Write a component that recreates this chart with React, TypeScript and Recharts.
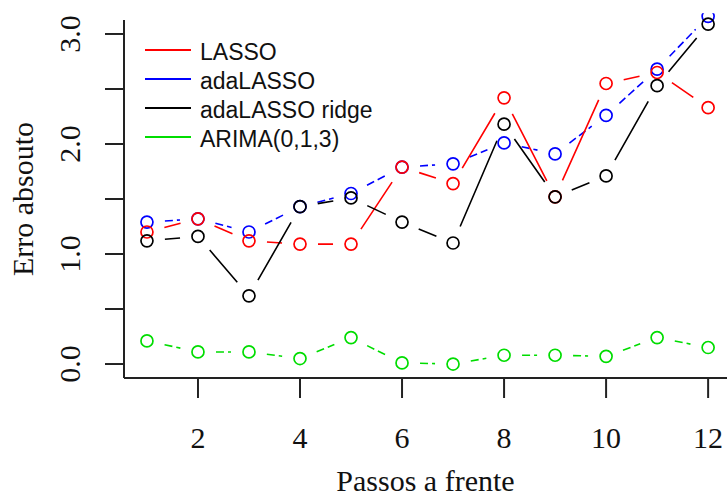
import React from "react"
import { LineChart, Line, XAxis, YAxis } from "recharts"

const steps = [1, 2, 3, 4, 5, 6, 7, 8, 9, 10, 11, 12]
const lasso = [1.2, 1.32, 1.12, 1.09, 1.09, 1.79, 1.64, 2.42, 1.52, 2.55, 2.65, 2.33]
const adaLasso = [1.29, 1.32, 1.2, 1.43, 1.55, 1.79, 1.82, 2.01, 1.91, 2.26, 2.68, 3.16]
const adaRidge = [1.12, 1.16, 0.62, 1.43, 1.51, 1.29, 1.1, 2.18, 1.52, 1.71, 2.53, 3.09]
const arima = [0.21, 0.11, 0.11, 0.05, 0.24, 0.01, 0.0, 0.08, 0.08, 0.07, 0.24, 0.15]

const xTicks = [2, 4, 6, 8, 10, 12]
const yTicks = [0, 0.5, 1, 1.5, 2, 2.5, 3]

const series = [
  { key: "adaLASSO", values: adaLasso, color: "#0000ff", dash: "8 4" },
  { key: "LASSO", values: lasso, color: "#ff0000", dash: undefined },
  { key: "adaLASSO ridge", values: adaRidge, color: "#000000", dash: undefined },
  { key: "ARIMA(0,1,3)", values: arima, color: "#00dd00", dash: "8 4" },
]
const legendOrder = ["LASSO", "adaLASSO", "adaLASSO ridge", "ARIMA(0,1,3)"]

const data = steps.map((s, i) => {
  const row: Record<string, number> = { step: s }
  series.forEach((se) => (row[se.key] = se.values[i]))
  return row
})

// R type="b": segments stop short of each point
const GAP = 18
const gapCurve = (context: any) => {
  let pts: [number, number][] = []
  return {
    areaStart() {},
    areaEnd() {},
    lineStart() {
      pts = []
    },
    lineEnd() {
      for (let i = 0; i < pts.length - 1; i++) {
        const [x0, y0] = pts[i]
        const [x1, y1] = pts[i + 1]
        const dx = x1 - x0
        const dy = y1 - y0
        const d = Math.hypot(dx, dy)
        if (d <= 2 * GAP) continue
        const ux = dx / d
        const uy = dy / d
        context.moveTo(x0 + ux * GAP, y0 + uy * GAP)
        context.lineTo(x1 - ux * GAP, y1 - uy * GAP)
      }
    },
    point(x: number, y: number) {
      pts.push([+x, +y])
    },
  }
}

const serif = "'Liberation Serif', 'Times New Roman', serif"
const sans = "'Liberation Sans', Arial, sans-serif"

const YTick = (props: any) => {
  const { x, y, payload } = props
  if (payload.value % 1 !== 0) return null
  return (
    <text
      transform={`translate(${x - 25}, ${y}) rotate(-90)`}
      textAnchor="middle"
      fontFamily={serif}
      fontSize={30}
      fill="#111"
    >
      {payload.value.toFixed(1)}
    </text>
  )
}

const XTick = (props: any) => {
  const { x, y, payload } = props
  return (
    <text x={x} y={y + 50} textAnchor="middle" fontFamily={serif} fontSize={30} fill="#111">
      {payload.value}
    </text>
  )
}

export default function App() {
  return (
    <div style={{ position: "absolute", left: 0, top: 0, width: 727, height: 494, background: "#fff" }}>
      <LineChart width={727} height={494} data={data} margin={{ top: 20, right: 0, bottom: 0, left: 0 }}>
        <XAxis
          dataKey="step"
          type="number"
          domain={[0.55, 12.37]}
          ticks={xTicks}
          allowDataOverflow
          height={116}
          tickSize={20}
          tickMargin={0}
          tick={<XTick />}
          axisLine={{ stroke: "#222", strokeWidth: 2 }}
          tickLine={{ stroke: "#222", strokeWidth: 2 }}
          label={{
            content: (p: any) => (
              <text
                x={p.viewBox.x + p.viewBox.width / 2}
                y={p.viewBox.y + 113}
                textAnchor="middle"
                fontFamily={serif}
                fontSize={30}
                fill="#111"
              >
                Passos a frente
              </text>
            ),
          }}
        />
        <XAxis
          xAxisId="top"
          orientation="top"
          type="number"
          domain={[0.55, 12.37]}
          height={0}
          tick={false}
          tickLine={false}
          axisLine={{ stroke: "#222", strokeWidth: 2 }}
        />
        <YAxis
          type="number"
          domain={[-0.127, 3.127]}
          ticks={yTicks}
          allowDataOverflow
          width={124}
          tickSize={19}
          tickMargin={0}
          tick={<YTick />}
          axisLine={{ stroke: "#222", strokeWidth: 2 }}
          tickLine={{ stroke: "#222", strokeWidth: 2 }}
          label={{
            content: (p: any) => (
              <text
                transform={`translate(33, ${p.viewBox.y + p.viewBox.height / 2}) rotate(-90)`}
                textAnchor="middle"
                fontFamily={serif}
                fontSize={30}
                fill="#111"
              >
                Erro absouto
              </text>
            ),
          }}
        />
        {series.map((se) => (
          <Line
            key={se.key}
            dataKey={se.key}
            type={gapCurve as any}
            stroke={se.color}
            strokeWidth={1.6}
            strokeDasharray={se.dash}
            dot={{ r: 6, fill: "none", stroke: se.color, strokeWidth: 1.7, strokeDasharray: "", clipDot: false }}
            activeDot={false}
            isAnimationActive={false}
          />
        ))}
      </LineChart>
      <svg width={260} height={130} style={{ position: "absolute", left: 140, top: 30 }}>
        {legendOrder.map((name, i) => {
          const se = series.find((s) => s.key === name)!
          const y = 20 + i * 29
          return (
            <g key={name}>
              <line x1={5} x2={51} y1={y} y2={y} stroke={se.color} strokeWidth={2} />
              <text x={60} y={y + 10} fontFamily={sans} fontSize={23} fill="#111">
                {name}
              </text>
            </g>
          )
        })}
      </svg>
    </div>
  )
}
